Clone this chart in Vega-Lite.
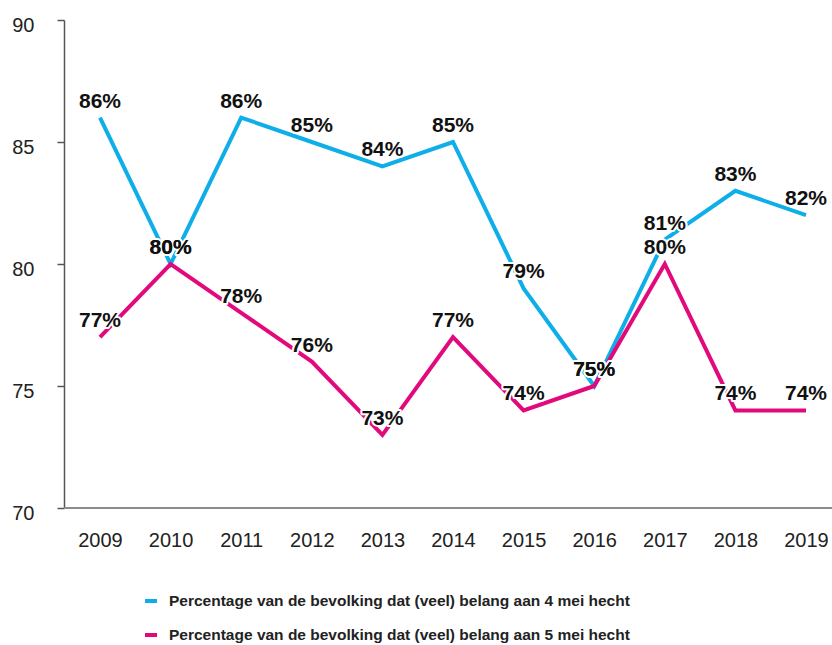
{
  "$schema": "https://vega.github.io/schema/vega-lite/v6.json",
  "width": 768,
  "height": 488,
  "autosize": {"type": "none"},
  "padding": {"left": 64, "top": 20, "right": 0, "bottom": 137},
  "background": "white",
  "config": {"view": {"stroke": null}, "font": "Liberation Sans"},
  "data": {
    "values": [
      {"year": "2009", "series": "Percentage van de bevolking dat (veel) belang aan 4 mei hecht", "value": 86, "label": "86%"},
      {"year": "2010", "series": "Percentage van de bevolking dat (veel) belang aan 4 mei hecht", "value": 80, "label": "80%"},
      {"year": "2011", "series": "Percentage van de bevolking dat (veel) belang aan 4 mei hecht", "value": 86, "label": "86%"},
      {"year": "2012", "series": "Percentage van de bevolking dat (veel) belang aan 4 mei hecht", "value": 85, "label": "85%"},
      {"year": "2013", "series": "Percentage van de bevolking dat (veel) belang aan 4 mei hecht", "value": 84, "label": "84%"},
      {"year": "2014", "series": "Percentage van de bevolking dat (veel) belang aan 4 mei hecht", "value": 85, "label": "85%"},
      {"year": "2015", "series": "Percentage van de bevolking dat (veel) belang aan 4 mei hecht", "value": 79, "label": "79%"},
      {"year": "2016", "series": "Percentage van de bevolking dat (veel) belang aan 4 mei hecht", "value": 75, "label": "75%"},
      {"year": "2017", "series": "Percentage van de bevolking dat (veel) belang aan 4 mei hecht", "value": 81, "label": "81%"},
      {"year": "2018", "series": "Percentage van de bevolking dat (veel) belang aan 4 mei hecht", "value": 83, "label": "83%"},
      {"year": "2019", "series": "Percentage van de bevolking dat (veel) belang aan 4 mei hecht", "value": 82, "label": "82%"},
      {"year": "2009", "series": "Percentage van de bevolking dat (veel) belang aan 5 mei hecht", "value": 77, "label": "77%"},
      {"year": "2010", "series": "Percentage van de bevolking dat (veel) belang aan 5 mei hecht", "value": 80, "label": "80%"},
      {"year": "2011", "series": "Percentage van de bevolking dat (veel) belang aan 5 mei hecht", "value": 78, "label": "78%"},
      {"year": "2012", "series": "Percentage van de bevolking dat (veel) belang aan 5 mei hecht", "value": 76, "label": "76%"},
      {"year": "2013", "series": "Percentage van de bevolking dat (veel) belang aan 5 mei hecht", "value": 73, "label": "73%"},
      {"year": "2014", "series": "Percentage van de bevolking dat (veel) belang aan 5 mei hecht", "value": 77, "label": "77%"},
      {"year": "2015", "series": "Percentage van de bevolking dat (veel) belang aan 5 mei hecht", "value": 74, "label": "74%"},
      {"year": "2016", "series": "Percentage van de bevolking dat (veel) belang aan 5 mei hecht", "value": 75, "label": "75%"},
      {"year": "2017", "series": "Percentage van de bevolking dat (veel) belang aan 5 mei hecht", "value": 80, "label": "80%"},
      {"year": "2018", "series": "Percentage van de bevolking dat (veel) belang aan 5 mei hecht", "value": 74, "label": "74%"},
      {"year": "2019", "series": "Percentage van de bevolking dat (veel) belang aan 5 mei hecht", "value": 74, "label": "74%"}
    ]
  },
  "encoding": {
    "x": {
      "field": "year",
      "type": "ordinal",
      "scale": {"type": "point", "range": [36, 742], "padding": 0},
      "axis": {
        "title": null,
        "labelAngle": 0,
        "labelFontSize": 20,
        "labelColor": "#222",
        "labelPadding": 22,
        "ticks": false,
        "domain": false,
        "grid": false
      }
    },
    "y": {
      "field": "value",
      "type": "quantitative",
      "scale": {"domain": [70, 90], "nice": false, "zero": false},
      "axis": {
        "title": null,
        "values": [70, 75, 80, 85, 90],
        "labelFontSize": 20,
        "labelColor": "#222",
        "labelPadding": 23,
        "labelOffset": 5,
        "tickSize": 7,
        "tickColor": "#555",
        "tickWidth": 1.5,
        "domainColor": "#555",
        "domainWidth": 1.5,
        "grid": false
      }
    }
  },
  "layer": [
    {
      "mark": {"type": "rule", "color": "#8c8c8c", "strokeWidth": 2},
      "encoding": {
        "y": {"datum": 70},
        "x": {"value": 0},
        "x2": {"value": 768}
      }
    },
    {
      "mark": {"type": "line", "strokeWidth": 4, "strokeJoin": "miter", "strokeCap": "butt"},
      "encoding": {
        "color": {
          "field": "series",
          "type": "nominal",
          "scale": {
            "domain": [
              "Percentage van de bevolking dat (veel) belang aan 4 mei hecht",
              "Percentage van de bevolking dat (veel) belang aan 5 mei hecht"
            ],
            "range": ["#0EAEE8", "#E2097C"]
          },
          "legend": {
            "orient": "none",
            "legendX": 79,
            "legendY": 573,
            "direction": "vertical",
            "title": null,
            "symbolType": "stroke",
            "symbolSize": 144,
            "symbolStrokeWidth": 4,
            "labelFont": "Liberation Sans",
            "labelFontSize": 15.5,
            "labelFontWeight": "bold",
            "labelColor": "#222",
            "labelLimit": 0,
            "labelOffset": 10,
            "rowPadding": 17,
            "padding": 0
          }
        }
      }
    },
    {
      "mark": {"type": "text", "fontSize": 21, "fontWeight": "bold", "baseline": "alphabetic", "dy": -10, "stroke": "white", "strokeWidth": 4, "strokeJoin": "round", "fill": "white"},
      "encoding": {"text": {"field": "label"}}
    },
    {
      "mark": {"type": "text", "fontSize": 21, "fontWeight": "bold", "baseline": "alphabetic", "dy": -10, "fill": "#111"},
      "encoding": {"text": {"field": "label"}}
    }
  ]
}
